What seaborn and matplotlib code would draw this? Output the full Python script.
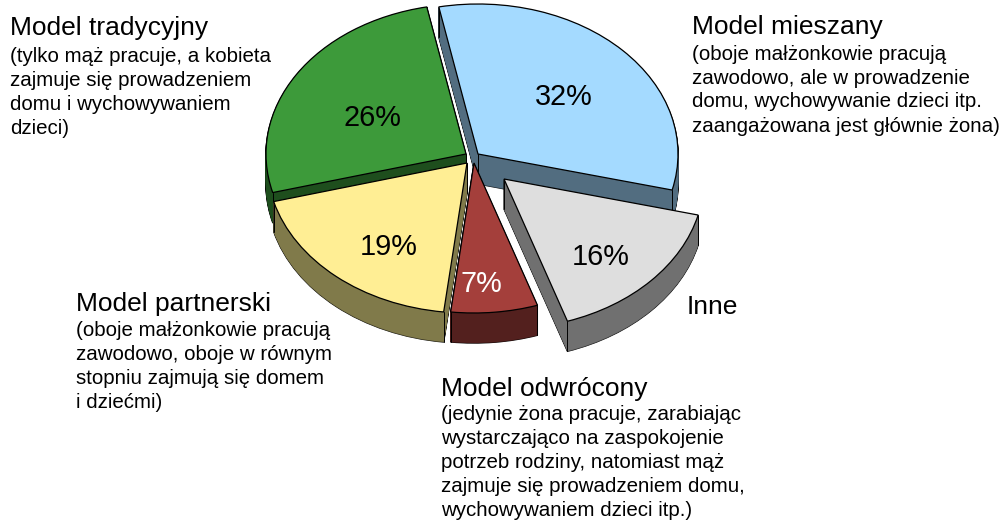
import matplotlib
matplotlib.use("Agg")
import matplotlib.pyplot as plt
import numpy as np
import seaborn as sns

sns.set_theme(style="white")
plt.rcParams["font.family"] = ["Liberation Sans", "DejaVu Sans"]

# data, clockwise from the top
models = ["Model mieszany", "Inne", "Model odwrócony", "Model partnerski", "Model tradycyjny"]
shares = [32, 16, 7, 19, 26]

top_colors = ["#A4DAFF", "#DEDEDE", "#A43F3B", "#FFEE94", "#3D9A3A"]
wall_colors = ["#526D80", "#707070", "#53201E", "#807A4A", "#1E4E1D"]
pct_colors = ["black", "black", "white", "black", "black"]

notes = {
    "Model mieszany": ["(oboje małżonkowie pracują", "zawodowo, ale w prowadzenie",
                       "domu, wychowywanie dzieci itp.", "zaangażowana jest głównie żona)"],
    "Inne": [],
    "Model odwrócony": ["(jedynie żona pracuje, zarabiając", "wystarczająco na zaspokojenie",
                        "potrzeb rodziny, natomiast mąż", "zajmuje się prowadzeniem domu,",
                        "wychowywaniem dzieci itp.)"],
    "Model partnerski": ["(oboje małżonkowie pracują", "zawodowo, oboje w równym",
                         "stopniu zajmują się domem", "i dziećmi)"],
    "Model tradycyjny": ["(tylko mąż pracuje, a kobieta", "zajmuje się prowadzeniem",
                         "domu i wychowywaniem", "dzieci)"],
}

# layout, in pixels of the 1004x520 picture
W, H = 1004, 520
RX, RY = 200, 150
DEPTH = 30
START = 101.3
apex = [(478, 154), (504, 179), (474, 163), (467, 163), (466, 154)]
draw_order = [4, 0, 3, 2, 1]
pct_pos = [(564, 97), (601, 257), (481, 284), (389, 247), (372, 118)]
label_pos = [(692, 34), (687, 314), (441, 396), (76, 311), (10, 35)]
note_y = [59.5, 0, 420, 335.5, 62]
LINE_STEP = 24


def to_data(px, py):
    return px / RX, (H - py) / RY


def one_wedge(ax, i, drop, zorder, **props):
    # pie() gives all the slices, only slice i is kept
    px, py = apex[i]
    wedges, _ = ax.pie(shares, startangle=START, counterclock=False, radius=1,
                       center=to_data(px, py + drop), frame=True, wedgeprops=props)
    for j, w in enumerate(wedges):
        if j != i:
            w.remove()
    wedges[i].set_zorder(zorder)
    return wedges[i]


fig, ax = plt.subplots(figsize=(W / 100, H / 100), dpi=100)
fig.subplots_adjust(0, 0, 1, 1)

for rank, i in enumerate(draw_order):
    base = (rank + 1) * 1000
    # outline of the whole extruded slice, then the wall over it
    for d in range(DEPTH, 0, -1):
        one_wedge(ax, i, d, base, facecolor="black", edgecolor="black", linewidth=1.0)
    for d in range(DEPTH, 0, -1):
        one_wedge(ax, i, d, base + 1, facecolor=wall_colors[i], edgecolor=wall_colors[i], linewidth=0.3)
    top = one_wedge(ax, i, 0, base + 3, facecolor=top_colors[i], edgecolor="black", linewidth=0.9)

    # creases of the wall at the three corners of the slice
    cx, cy = top.center
    xs = [cx] + [cx + top.r * np.cos(np.radians(t)) for t in (top.theta1, top.theta2)]
    ys = [cy] + [cy + top.r * np.sin(np.radians(t)) for t in (top.theta1, top.theta2)]
    for x, y in zip(xs, ys):
        ax.plot([x, x], [y, y - DEPTH / RY], color="black", lw=0.7, zorder=base + 2)

ax.set_aspect("auto")
ax.set_xlim(0, W / RX)
ax.set_ylim(0, H / RY)
ax.axis("off")

for i, model in enumerate(models):
    x, y = pct_pos[i]
    fig.text(x / W, 1 - y / H, f"{shares[i]}%", color=pct_colors[i], fontsize=20.8,
             ha="center", va="center")
    x, y = label_pos[i]
    fig.text(x / W, 1 - y / H, model, color="black", fontsize=19, va="baseline")
    for n, line in enumerate(notes[model]):
        fig.text(x / W, 1 - (note_y[i] + n * LINE_STEP) / H, line, color="black",
                 fontsize=14.8, va="baseline")

fig.savefig("out.png", dpi=100)
